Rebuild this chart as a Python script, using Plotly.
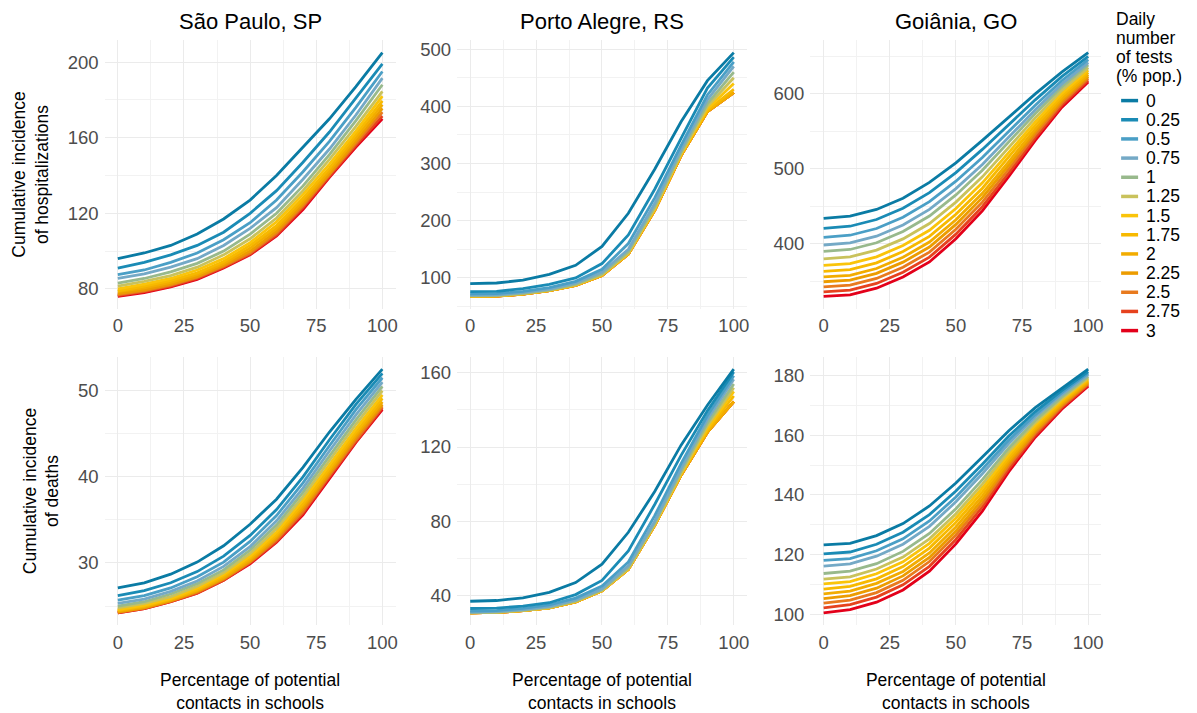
import plotly.graph_objects as go

# ---------------- data ----------------
contacts = [0, 10, 20, 30, 40, 50, 60, 70, 80, 90, 100]
tests = ["0", "0.25", "0.5", "0.75", "1", "1.25", "1.5", "1.75", "2", "2.25", "2.5", "2.75", "3"]
test_colors = ["#0A7BA4", "#1A8BB5", "#4A9FC6", "#74A9C6", "#98B98C", "#C9C25C", "#FAC40A",
               "#F7B900", "#F2AC00", "#EC9C00", "#E87A1E", "#E6421E", "#E3001A"]
cities = ["São Paulo, SP", "Porto Alegre, RS", "Goiânia, GO"]
row_titles = ["Cumulative incidence<br>of hospitalizations", "Cumulative incidence<br>of deaths"]
x_title = "Percentage of potential<br>contacts in schools"
legend_title = ["Daily", "number", "of tests", "(% pop.)"]

sp_hosp = [
    [96, 99, 103, 109, 117, 127, 140, 155, 170, 187, 205],
    [91, 94, 98, 103, 110, 120, 132, 147, 163, 181, 199],
    [87.5, 90, 94, 99, 106, 115, 127, 142, 158, 176, 195],
    [85.5, 88, 91.5, 96, 103, 112, 123, 138, 154, 172, 191.5],
    [83, 85.5, 89, 93.5, 100, 109, 120, 134.5, 151, 169, 188],
    [81.5, 84, 87, 91.5, 98, 106.5, 117.5, 132, 148.5, 166, 184.5],
    [80, 82.5, 85.5, 90, 96, 104.5, 115.5, 130, 146, 163.5, 182],
    [79, 81.5, 84.5, 88.5, 94.5, 103, 113.5, 128, 144, 161.5, 179.5],
    [78.5, 80.5, 83.5, 87.5, 93.5, 101.5, 112, 126.5, 142.5, 160, 177.5],
    [77.5, 79.5, 82.5, 86.5, 92.5, 100, 110.5, 125, 141, 158.5, 175.5],
    [77, 79, 82, 86, 92, 99, 109.5, 124, 140.5, 157, 173.5],
    [76.5, 78.5, 81.5, 85.5, 91.5, 98.5, 108.5, 123, 139.5, 156, 171.5],
    [76, 78, 81, 85, 91, 98, 108, 122, 139, 155, 170],
]

pa_hosp = [
    [90, 91, 96, 106, 122, 155, 213, 290, 373, 445, 494],
    [76, 76.5, 81, 88.5, 100, 125, 175, 255, 344, 432, 486],
    [72, 72.5, 76.5, 83, 94, 115, 160, 240, 332, 420, 478],
    [70, 70.5, 74.5, 80.5, 91, 110, 150, 230, 325, 412, 470],
    [69, 69.5, 73, 79, 89, 107, 146, 225, 320, 405, 460],
    [68.5, 69, 72.5, 78.5, 88, 106, 144, 222, 318, 400, 450],
    [68, 68.5, 72, 78, 87.5, 105, 143, 220, 316, 396, 440],
    [68, 68.5, 72, 77.5, 87, 104.5, 142, 219, 315, 393, 430],
    [67.5, 68, 71.5, 77.5, 87, 104, 141.5, 218, 314, 391, 424],
    [67.5, 68, 71.5, 77.5, 87, 104, 141.5, 218, 314, 391, 424],
    [67.5, 68, 71.5, 77.5, 87, 104, 141.5, 218, 314, 391, 424],
    [67.5, 68, 71.5, 77.5, 87, 104, 141.5, 218, 314, 391, 424],
    [67.5, 68, 71.5, 77.5, 87, 104, 141.5, 218, 314, 391, 424],
]

go_hosp = [
    [434, 437, 446, 461, 482, 508, 538, 569, 600, 629, 655],
    [420.7, 423.6, 432.6, 447.6, 468.4, 495.1, 526, 558.9, 592.1, 623, 650],
    [408.8, 411.6, 420.6, 435.6, 456.3, 483.6, 515.3, 549.9, 585, 617.6, 645.6],
    [398.6, 401.3, 410.3, 425.3, 446, 473.7, 506, 542.1, 578.9, 613, 641.7],
    [390, 392.6, 401.6, 416.6, 437.2, 465.3, 498.2, 535.6, 573.8, 609.1, 638.5],
    [380.2, 382.7, 391.7, 406.7, 427.2, 455.8, 489.4, 528.2, 568, 604.7, 634.8],
    [371.4, 373.8, 382.8, 397.8, 418.2, 447.2, 481.4, 521.4, 562.7, 600.7, 631.5],
    [363.5, 365.8, 374.8, 389.8, 410.1, 439.5, 474.3, 515.4, 558, 597.1, 628.6],
    [356, 358.2, 367.2, 382.2, 402.5, 432.2, 467.5, 509.7, 553.5, 593.7, 625.7],
    [349.6, 351.7, 360.7, 375.7, 395.9, 426, 461.7, 504.9, 549.7, 590.8, 623.3],
    [342.9, 345, 354, 369, 389.1, 419.5, 455.7, 499.8, 545.7, 587.8, 620.8],
    [336.2, 338.3, 347.3, 362.3, 382.4, 413.1, 449.6, 494.7, 541.7, 584.8, 618.3],
    [330, 332, 341, 356, 376, 407, 444, 490, 538, 582, 616],
]

sp_deaths = [
    [27.1, 27.7, 28.7, 30.1, 32, 34.5, 37.4, 41.1, 45.2, 49, 52.5],
    [26.2, 26.8, 27.7, 29, 30.8, 33.2, 36.2, 40, 44.3, 48.4, 52],
    [25.7, 26.2, 27.1, 28.4, 30.1, 32.5, 35.5, 39.3, 43.6, 47.8, 51.5],
    [25.3, 25.8, 26.7, 27.9, 29.6, 31.9, 34.9, 38.7, 43, 47.2, 51],
    [25, 25.5, 26.4, 27.6, 29.2, 31.5, 34.4, 38.2, 42.4, 46.6, 50.5],
    [24.8, 25.3, 26.1, 27.3, 28.9, 31.1, 34, 37.7, 41.9, 46.1, 50],
    [24.6, 25.1, 25.9, 27.1, 28.7, 30.8, 33.6, 37.3, 41.4, 45.6, 49.5],
    [24.5, 25, 25.8, 26.9, 28.5, 30.6, 33.3, 36.9, 41, 45.2, 49.1],
    [24.4, 24.9, 25.7, 26.8, 28.3, 30.4, 33.1, 36.6, 40.7, 44.9, 48.7],
    [24.3, 24.8, 25.6, 26.7, 28.2, 30.2, 32.9, 36.3, 40.4, 44.6, 48.4],
    [24.3, 24.8, 25.6, 26.6, 28.1, 30.1, 32.7, 36, 40.2, 44.3, 48.2],
    [24.2, 24.7, 25.5, 26.5, 28, 30, 32.5, 35.8, 40, 44.1, 48],
    [24.2, 24.7, 25.5, 26.5, 28, 29.9, 32.4, 35.6, 39.8, 44, 47.8],
]

pa_deaths = [
    [36.8, 37.2, 38.6, 41.6, 46.9, 56.8, 74, 96, 121, 142.5, 162],
    [32.9, 33.1, 34.2, 36, 40.4, 48, 64, 89, 115.5, 139.5, 160.5],
    [31.5, 31.8, 33, 34.8, 38.5, 45, 58, 83, 111, 137, 158.5],
    [31, 31.3, 32.3, 34, 37.5, 43.5, 56, 80, 108.5, 135, 156.5],
    [30.7, 31, 32, 33.6, 37, 43, 55, 79, 107, 133, 154],
    [30.6, 30.9, 31.9, 33.4, 36.8, 42.7, 54.5, 78.5, 106, 131.5, 152],
    [30.5, 30.8, 31.8, 33.3, 36.6, 42.5, 54.2, 78, 105.5, 130, 150],
    [30.5, 30.8, 31.7, 33.2, 36.5, 42.4, 54, 77.8, 105, 129, 147.5],
    [30.5, 30.8, 31.7, 33.2, 36.5, 42.4, 54, 77.8, 104.8, 128, 144.5],
    [30.5, 30.8, 31.7, 33.2, 36.5, 42.4, 54, 77.8, 104.8, 128, 144.5],
    [30.5, 30.8, 31.7, 33.2, 36.5, 42.4, 54, 77.8, 104.8, 128, 144.5],
    [30.5, 30.8, 31.7, 33.2, 36.5, 42.4, 54, 77.8, 104.8, 128, 144.5],
    [30.5, 30.8, 31.7, 33.2, 36.5, 42.4, 54, 77.8, 104.8, 128, 144.5],
]

go_deaths = [
    [123.3, 123.8, 126.4, 130.4, 136.3, 144, 152.7, 161.5, 169.2, 175.8, 182.1],
    [120.3, 120.9, 123.5, 127.5, 133.4, 141.3, 150.3, 159.7, 167.9, 174.9, 181.3],
    [118.1, 118.7, 121.3, 125.3, 131.3, 139.3, 148.6, 158.4, 166.9, 174.2, 180.8],
    [116.2, 116.9, 119.5, 123.5, 129.5, 137.7, 147.1, 157.2, 166.1, 173.6, 180.3],
    [113.7, 114.5, 117, 121.1, 127.1, 135.4, 145.1, 155.7, 165, 172.8, 179.7],
    [111.8, 112.6, 115.2, 119.2, 125.3, 133.7, 143.6, 154.6, 164.2, 172.2, 179.2],
    [110.2, 111, 113.6, 117.6, 123.8, 132.3, 142.3, 153.6, 163.5, 171.7, 178.8],
    [108.5, 109.4, 111.9, 116, 122.2, 130.8, 141, 152.6, 162.8, 171.2, 178.4],
    [106.9, 107.8, 110.4, 114.4, 120.6, 129.3, 139.7, 151.6, 162.1, 170.7, 178],
    [105.3, 106.3, 108.8, 112.9, 119.1, 127.9, 138.4, 150.7, 161.4, 170.2, 177.6],
    [103.8, 104.8, 107.3, 111.4, 117.7, 126.6, 137.2, 149.8, 160.7, 169.7, 177.2],
    [102.2, 103.3, 105.8, 109.9, 116.1, 125.1, 136, 148.8, 160, 169.2, 176.8],
    [100.5, 101.6, 104.1, 108.2, 114.5, 123.6, 134.6, 147.8, 159.3, 168.7, 176.4],
]

panels = [sp_hosp, pa_hosp, go_hosp, sp_deaths, pa_deaths, go_deaths]
y_dticks = [40, 100, 100, 10, 40, 20]

# ---------------- layout helpers ----------------
W, H = 1197, 713
FONT = "Liberation Sans, Arial, sans-serif"


def px_x(p):
    return p / W


def px_y(p):
    return 1 - p / H


col_px = [(104.75, 396.25), (457.8, 748.2), (811.75, 1103.25)]
row_px = [(39, 311), (360, 632)]

fig = go.Figure()
layout = dict(
    width=W, height=H,
    margin=dict(l=0, r=0, t=0, b=0),
    paper_bgcolor="white", plot_bgcolor="white",
    font=dict(family=FONT, color="black"),
    showlegend=False,
)
annotations = []
shapes = []

for p, data in enumerate(panels):
    r, c = divmod(p, 3)
    xa = "x" if p == 0 else f"x{p + 1}"
    ya = "y" if p == 0 else f"y{p + 1}"
    for k in reversed(range(len(tests))):
        fig.add_trace(go.Scatter(
            x=contacts, y=data[k], mode="lines", name=tests[k],
            line=dict(color=test_colors[k], width=2.8),
            xaxis=xa, yaxis=ya, showlegend=False,
            hovertemplate="%{x}, %{y}<extra>" + tests[k] + "</extra>",
        ))
    flat = [v for s in data for v in s]
    lo, hi = min(flat), max(flat)
    pad = 0.05 * (hi - lo)
    grid = dict(showgrid=True, gridcolor="#EBEBEB", gridwidth=1.4, zeroline=False,
                showline=False, ticks="",
                tickfont=dict(family=FONT, size=18.5, color="#4D4D4D"))
    xkey = "xaxis" if p == 0 else f"xaxis{p + 1}"
    ykey = "yaxis" if p == 0 else f"yaxis{p + 1}"
    xd = col_px[c]
    yd = row_px[r]
    layout[xkey] = dict(
        domain=[px_x(xd[0]), px_x(xd[1])], anchor=ya, range=[-5, 105],
        tick0=0, dtick=25, ticklabelstandoff=4,
        minor=dict(showgrid=True, gridcolor="#F2F2F2", gridwidth=0.8, dtick=12.5, tick0=0),
        **grid,
    )
    if r == 1:
        layout[xkey]["title"] = dict(text=x_title, font=dict(family=FONT, size=17.5, color="black"),
                                     standoff=25)
    layout[ykey] = dict(
        domain=[px_y(yd[1]), px_y(yd[0])], anchor=xa, range=[lo - pad, hi + pad],
        tick0=0, dtick=y_dticks[p], ticklabelstandoff=5,
        minor=dict(showgrid=True, gridcolor="#F2F2F2", gridwidth=0.8,
                   dtick=y_dticks[p] / 2, tick0=0),
        **grid,
    )
    if c == 0:
        layout[ykey]["title"] = dict(text=row_titles[r], font=dict(family=FONT, size=17.5, color="black"),
                                     standoff=14)
    if r == 0:
        annotations.append(dict(
            text=cities[c], x=px_x((xd[0] + xd[1]) / 2), y=px_y(20),
            xref="paper", yref="paper", xanchor="center", yanchor="middle",
            showarrow=False, font=dict(family=FONT, size=22, color="black"),
        ))

# manual legend (ggplot-style, compact)
for i, t in enumerate(legend_title):
    annotations.append(dict(
        text=t, x=px_x(1116), y=px_y(17 + 19.2 * i), xref="paper", yref="paper",
        xanchor="left", yanchor="middle", showarrow=False,
        font=dict(family=FONT, size=17.5, color="black"),
    ))
for i, t in enumerate(tests):
    yc = 100 + 19.44 * i
    shapes.append(dict(
        type="line", xref="paper", yref="paper",
        x0=px_x(1123), x1=px_x(1140), y0=px_y(yc), y1=px_y(yc),
        line=dict(color=test_colors[i], width=3.5),
    ))
    annotations.append(dict(
        text=t, x=px_x(1146), y=px_y(yc), xref="paper", yref="paper",
        xanchor="left", yanchor="middle", showarrow=False,
        font=dict(family=FONT, size=17.5, color="black"),
    ))

layout["annotations"] = annotations
layout["shapes"] = shapes
fig.update_layout(**layout)
fig.write_html("out.html", config={"displayModeBar": False},
               post_script="document.body.style.margin='0px';")
